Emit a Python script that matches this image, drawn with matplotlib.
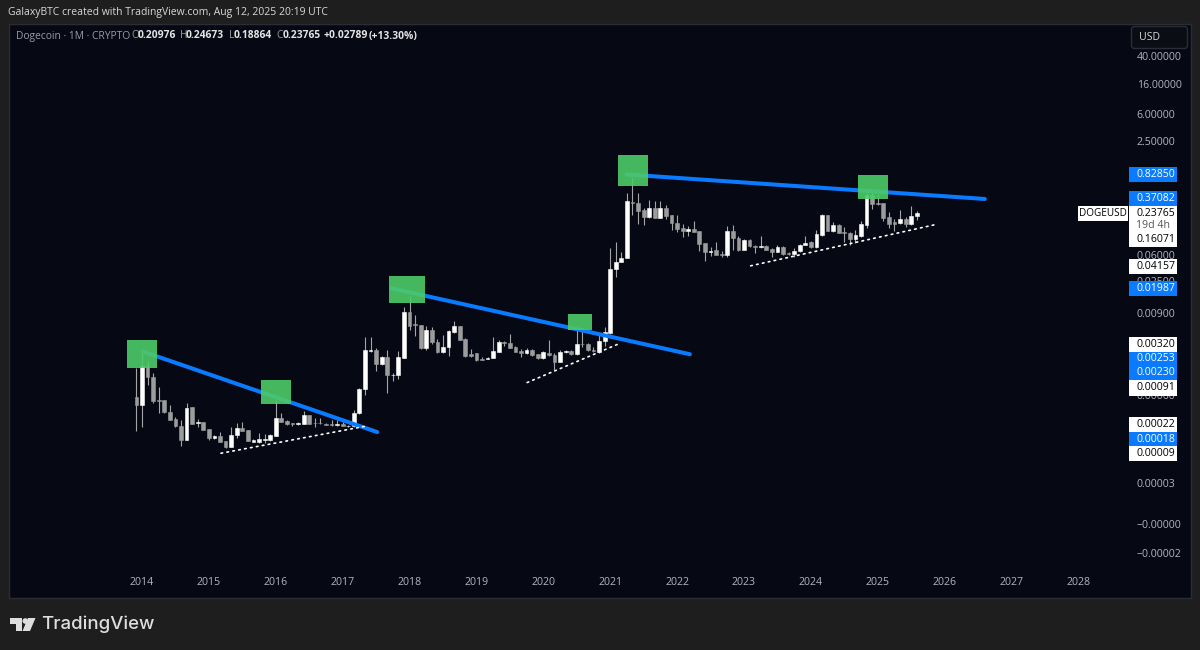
import numpy as np
import matplotlib
matplotlib.use("Agg")
import matplotlib.pyplot as plt
from matplotlib.patches import Rectangle, Polygon, Circle, FancyBboxPatch

plt.rcParams['font.family'] = ['Open Sans', 'DejaVu Sans']

# monthly DOGEUSD candles, Dec 2013 to Aug 2025
first_month = -1  # months counted from Jan 2014
opens = [0.000568, 0.00043, 0.00158, 0.00108, 0.00051, 0.00051, 0.000349, 0.000275, 0.000219, 0.000139, 0.00041, 0.000242, 0.00025,
         0.000197, 0.000146, 0.000156, 0.000136, 0.00011, 0.000165, 0.000207, 0.000192, 0.000131, 0.000131, 0.000139, 0.000139,
         0.00016, 0.000288, 0.000261, 0.000239, 0.000234, 0.000236, 0.000314, 0.000244, 0.000244, 0.000236, 0.000234, 0.000226,
         0.000236, 0.000217, 0.000217, 0.000331, 0.000735, 0.00255, 0.00261, 0.00169, 0.00207, 0.00115, 0.00115, 0.00205,
         0.00906, 0.0062, 0.00604, 0.00278, 0.00514, 0.00346, 0.00244, 0.0029, 0.0048, 0.00588, 0.00378, 0.00234,
         0.00236, 0.00199, 0.00199, 0.00205, 0.0025, 0.00342, 0.00331, 0.0029, 0.00255, 0.00239, 0.00266, 0.00234,
         0.00201, 0.00239, 0.00226, 0.0018, 0.00244, 0.00255, 0.00229, 0.00324, 0.00317, 0.00266, 0.0025, 0.00354,
         0.0046, 0.0374, 0.0475, 0.0531, 0.34, 0.328, 0.258, 0.203, 0.278, 0.2, 0.278, 0.217,
         0.17, 0.144, 0.131, 0.14, 0.128, 0.0868, 0.0661, 0.0691, 0.0619, 0.06, 0.128, 0.105,
         0.0698, 0.0975, 0.08, 0.0776, 0.08, 0.0721, 0.0661, 0.0776, 0.0632, 0.0612, 0.0668, 0.0829,
         0.09, 0.0777, 0.115, 0.221, 0.131, 0.159, 0.125, 0.121, 0.0996, 0.112, 0.159, 0.416,
         0.33, 0.327, 0.204, 0.174, 0.168, 0.193, 0.163, 0.20976]
highs = [0.00146, 0.00239, 0.00182, 0.00124, 0.0008, 0.00051, 0.00044, 0.000294, 0.000269, 0.00047, 0.00041, 0.000275, 0.00025,
         0.000197, 0.000165, 0.000178, 0.000136, 0.000212, 0.000242, 0.000247, 0.000192, 0.000143, 0.000174, 0.00017, 0.00017,
         0.00051, 0.000335, 0.000269, 0.000242, 0.000252, 0.000354, 0.000314, 0.000281, 0.000281, 0.000242, 0.000269, 0.000264,
         0.000252, 0.000229, 0.000374, 0.00076, 0.00404, 0.00404, 0.00278, 0.00214, 0.00266, 0.00124, 0.00252, 0.0108,
         0.0153, 0.0084, 0.00604, 0.00588, 0.0056, 0.00378, 0.00436, 0.00503, 0.00688, 0.00588, 0.0039, 0.00272,
         0.00239, 0.0021, 0.0021, 0.00404, 0.00361, 0.00354, 0.00446, 0.00304, 0.00272, 0.00281, 0.00272, 0.00234,
         0.00252, 0.00361, 0.00239, 0.00266, 0.00266, 0.00266, 0.00542, 0.00542, 0.00331, 0.0029, 0.0046, 0.0056,
         0.0745, 0.0897, 0.0648, 0.446, 0.75, 0.446, 0.272, 0.354, 0.342, 0.35, 0.308, 0.222,
         0.217, 0.165, 0.154, 0.182, 0.131, 0.0877, 0.077, 0.0906, 0.0668, 0.152, 0.16, 0.109,
         0.1, 0.1, 0.0828, 0.109, 0.0821, 0.0736, 0.0821, 0.0787, 0.0648, 0.0745, 0.0848, 0.11,
         0.094, 0.136, 0.226, 0.221, 0.174, 0.164, 0.146, 0.124, 0.134, 0.181, 0.464, 0.448,
         0.435, 0.33, 0.241, 0.193, 0.26, 0.206, 0.294, 0.24673]
lows = [0.000184, 0.000212, 0.00085, 0.00047, 0.000335, 0.000335, 0.000264, 0.000212, 0.000115, 0.000139, 0.000234, 0.000212, 0.00019,
        0.00014, 0.000143, 0.000128, 0.000107, 0.00011, 0.000148, 0.000184, 0.000133, 0.000128, 0.000126, 0.000126, 0.000133,
        0.000156, 0.000247, 0.000224, 0.000217, 0.000229, 0.000236, 0.000236, 0.000212, 0.000236, 0.000224, 0.000222, 0.000217,
        0.000217, 0.00021, 0.00021, 0.000328, 0.00061, 0.00244, 0.00131, 0.00163, 0.00065, 0.00097, 0.00102, 0.00201,
        0.00514, 0.00413, 0.00272, 0.00266, 0.00324, 0.00239, 0.00239, 0.00214, 0.0046, 0.00361, 0.0021, 0.0021,
        0.00186, 0.00188, 0.00196, 0.00201, 0.00244, 0.00304, 0.00278, 0.00244, 0.0021, 0.00234, 0.00219, 0.00196,
        0.00196, 0.00219, 0.00136, 0.00176, 0.00239, 0.00224, 0.00224, 0.0029, 0.00255, 0.00244, 0.00239, 0.00297,
        0.00446, 0.0288, 0.0475, 0.0531, 0.222, 0.165, 0.16, 0.196, 0.196, 0.196, 0.194, 0.136,
        0.124, 0.107, 0.111, 0.124, 0.0668, 0.049, 0.0579, 0.0592, 0.0555, 0.0555, 0.0703, 0.0675,
        0.0691, 0.077, 0.0632, 0.0755, 0.0691, 0.0555, 0.0648, 0.06, 0.06, 0.0555, 0.0648, 0.0813,
        0.0756, 0.0756, 0.112, 0.128, 0.125, 0.12, 0.092, 0.0813, 0.0874, 0.108, 0.143, 0.266,
        0.30, 0.181, 0.143, 0.131, 0.166, 0.146, 0.159, 0.18864]
closes = [0.00043, 0.00158, 0.00108, 0.0005, 0.0005, 0.000342, 0.000269, 0.000217, 0.000137, 0.0004, 0.000236, 0.000247, 0.000194,
          0.000146, 0.000156, 0.000131, 0.00011, 0.000163, 0.000205, 0.000188, 0.000136, 0.000139, 0.000144, 0.000144, 0.000163,
          0.000288, 0.000252, 0.000236, 0.000232, 0.000242, 0.00031, 0.000236, 0.000239, 0.000242, 0.000229, 0.000226, 0.000236,
          0.000217, 0.00022, 0.000335, 0.000745, 0.00266, 0.00266, 0.00169, 0.00207, 0.00117, 0.00117, 0.0021, 0.00906,
          0.00588, 0.00604, 0.00278, 0.00514, 0.00338, 0.00244, 0.0029, 0.00487, 0.00588, 0.0037, 0.00214, 0.00219,
          0.0019, 0.0019, 0.00205, 0.00255, 0.00342, 0.00331, 0.00284, 0.0025, 0.00239, 0.00266, 0.00226, 0.00201,
          0.00244, 0.00224, 0.0018, 0.00244, 0.00255, 0.00229, 0.00324, 0.00317, 0.00266, 0.00252, 0.00354, 0.00471,
          0.0374, 0.0475, 0.0542, 0.342, 0.32, 0.252, 0.203, 0.278, 0.2, 0.278, 0.214, 0.167,
          0.14, 0.131, 0.139, 0.126, 0.0856, 0.0661, 0.0682, 0.06, 0.06, 0.128, 0.105, 0.0691,
          0.0975, 0.0787, 0.0776, 0.08, 0.0703, 0.0661, 0.0776, 0.0619, 0.0612, 0.0682, 0.0828, 0.089,
          0.0777, 0.117, 0.221, 0.131, 0.159, 0.121, 0.12, 0.0996, 0.115, 0.163, 0.416, 0.316,
          0.316, 0.202, 0.163, 0.166, 0.191, 0.163, 0.211, 0.23765]

# blue resistance lines and white dotted support lines: start/end month, start/end price
blue_months = [(0.05, 42.2), (44.8, 98.3), (86.9, 151.2)]
blue_prices = [(0.00253, 0.00018), (0.01987, 0.0023), (0.8285, 0.37082)]
dot_months = [(14.17, 40.4), (69.1, 85.4), (109.2, 142.4)]
dot_prices = [(0.00009, 0.00022), (0.00091, 0.0032), (0.04157, 0.16071)]

# green boxes: left, right month, bottom, top price
box_months = [(-2.69, 2.74), (21.35, 26.78), (44.36, 50.82), (76.36, 80.72), (85.33, 90.71), (128.4, 133.8)]
box_prices = [(0.00146, 0.00361), (0.000446, 0.000975), (0.0123, 0.0294), (0.00502, 0.00864), (0.575, 1.54), (0.369, 0.81)]

years = list(range(2014, 2029))
price_ticks = [40, 16, 6, 2.5, 0.06, 0.025, 0.009, 0.0006, 0.000034, -0.0000001, -0.000024]
price_labels = ["40.00000", "16.00000", "6.00000", "2.50000", "0.06000", "0.02500", "0.00900", "0.00060",
                "0.00003", "\u22120.00000", "\u22120.00002"]

BG = "#1e1e1e"
PANEL = "#060814"
BLUE = "#0a7bff"
TICK = "#b2b5be"

fig = plt.figure(figsize=(12, 6.5), dpi=100, facecolor=BG)
ax = fig.add_axes([9 / 1200, 52 / 650, 1182 / 1200, 574 / 650], facecolor=PANEL)
ax.set_yscale("symlog", linthresh=3.5e-5, linscale=0.537)
ax.set_xlim(-23.86, 188.2)
ax.set_ylim(-9.97e-5, 114)

months = np.arange(len(opens)) + first_month
o = np.array(opens)
c = np.array(closes)
colors = ["#ffffff" if b >= a else "#9c9c9c" for a, b in zip(opens, closes)]

ax.vlines(months, lows, highs, colors="#a5a5a5", linewidth=0.8, zorder=2)
ax.bar(months, np.abs(c - o), bottom=np.minimum(o, c), width=0.68, color=colors,
       edgecolor=colors, linewidth=0.4, zorder=3)

for mm, pp in zip(blue_months, blue_prices):
    ax.plot(mm, pp, color=BLUE, linewidth=2.9, solid_capstyle="round", zorder=4)
for mm, pp in zip(dot_months, dot_prices):
    ax.plot(mm, pp, color="white", linewidth=1.2, linestyle=(0, (1, 2.6)), dash_capstyle="round", zorder=5)
for mm, pp in zip(box_months, box_prices):
    ax.add_patch(Rectangle((mm[0], pp[0]), mm[1] - mm[0], pp[1] - pp[0], facecolor="#4ccb68",
                           edgecolor="none", alpha=0.9, zorder=6))

ax.set_xticks([(y - 2014) * 12 for y in years], labels=[str(y) for y in years])
ax.set_yticks(price_ticks, labels=price_labels)
ax.minorticks_off()
ax.tick_params(axis="x", length=0, direction="in", pad=-15, labelsize=7.6, labelcolor=TICK)
ax.tick_params(axis="y", length=0, direction="in", pad=-39, labelsize=7.6, labelcolor=TICK,
               left=False, right=False, labelleft=False, labelright=True)
for s in ax.spines.values():
    s.set_color("#2a2d36")
    s.set_linewidth(1)

# everything outside the plot area, in image pixels
over = fig.add_axes([0, 0, 1, 1], facecolor="none")
over.set_xlim(0, 1200)
over.set_ylim(650, 0)
over.axis("off")

over.text(8, 13, "GalaxyBTC created with TradingView.com, Aug 12, 2025 20:19 UTC", color="#d8d8d8",
          fontsize=7.5, va="center", fontweight="medium")

header = [("Dogecoin \u00b7 1M \u00b7 CRYPTO", 15.5, "#9a9ca3", "normal"),
          ("O", 131, "#9a9ca3", "normal"), ("0.20976", 137.5, "#e4e4e4", "bold"),
          ("H", 180, "#9a9ca3", "normal"), ("0.24673", 186, "#e4e4e4", "bold"),
          ("L", 229, "#9a9ca3", "normal"), ("0.18864", 234, "#e4e4e4", "bold"),
          ("C", 276, "#9a9ca3", "normal"), ("0.23765", 282.5, "#e4e4e4", "bold"),
          ("+0.02789", 324, "#e4e4e4", "bold"), ("(+13.30%)", 369, "#e4e4e4", "bold")]
for txt, x, col, wt in header:
    over.text(x, 36, txt, color=col, fontsize=7.4, fontweight=wt, va="center")

# USD button
over.add_patch(FancyBboxPatch((1133, 28), 53, 19, boxstyle="round,pad=1.5,rounding_size=3",
                              facecolor="#0b0d14", edgecolor="#2a2d36", linewidth=1))
over.text(1139, 37.5, "USD", color="#d8d8d8", fontsize=7.6, va="center")

# price tags, stacked as on the chart
tags = [("0.82850", 167, 182.3, BLUE, "white"), ("0.37082", 191, 205.7, BLUE, "white"),
        ("0.04157", 259, 274.3, "white", "black"), ("0.01987", 281, 296, BLUE, "white"),
        ("0.00320", 336.7, 351.7, "white", "black"), ("0.00253", 351.7, 365.7, BLUE, "white"),
        ("0.00230", 365.7, 380, BLUE, "white"), ("0.00091", 380, 395.7, "white", "black"),
        ("0.00022", 416.7, 432, "white", "black"), ("0.00018", 432, 446, BLUE, "white"),
        ("0.00009", 446, 460.7, "white", "black")]
for txt, top, bot, face, col in tags:
    over.add_patch(Rectangle((1129, top), 47.7, bot - top, facecolor=face, edgecolor="none", zorder=3))
    over.text(1136.5, (top + bot) / 2, txt, color=col, fontsize=7.6, va="center", zorder=4,
              fontweight="medium")

over.add_patch(Rectangle((1129, 205.7), 47.7, 41.3, facecolor="white", edgecolor="none", zorder=3))
over.text(1136.5, 213, "0.23765", color="black", fontsize=7.6, va="center", zorder=4, fontweight="medium")
over.text(1136.5, 225.7, "19d 4h", color="#555555", fontsize=7.6, va="center", zorder=4)
over.text(1136.5, 239.3, "0.16071", color="black", fontsize=7.6, va="center", zorder=4, fontweight="medium")
over.add_patch(Rectangle((1078, 205.7), 50.3, 15, facecolor="white", edgecolor="none", zorder=3))
over.text(1103, 213.2, "DOGEUSD", color="black", fontsize=7.2, va="center", ha="center", zorder=4)

# TradingView logo
logo = "#dedede"
over.add_patch(Polygon([(10, 618), (22, 618), (22, 631), (16, 631), (16, 624), (10, 624)], facecolor=logo, edgecolor="none"))
over.add_patch(Circle((25.3, 621), 2.8, facecolor=logo, edgecolor="none"))
over.add_patch(Polygon([(28, 618), (35.5, 618), (30, 631), (22.5, 631)], facecolor=logo, edgecolor="none"))
over.text(41.5, 624, "TradingView", color=logo, fontsize=13.4, va="center", fontfamily="Inter", fontweight="medium")

fig.savefig("out.png", dpi=100, facecolor=BG)
